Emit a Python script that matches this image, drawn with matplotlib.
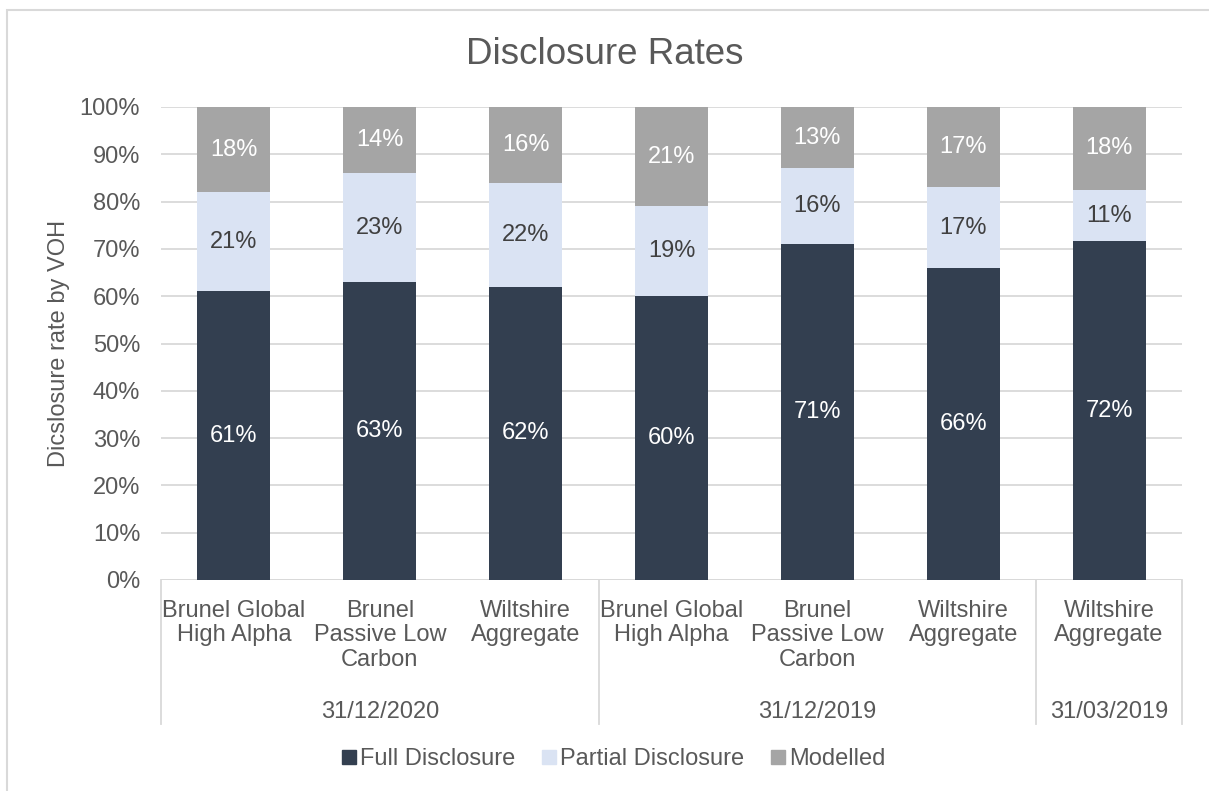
import numpy as np
import matplotlib
matplotlib.use('Agg')
import matplotlib.pyplot as plt
from matplotlib.lines import Line2D
from matplotlib.patches import Rectangle

plt.rcParams['font.family'] = ['Liberation Sans', 'DejaVu Sans']

# data
categories = ['Brunel Global\nHigh Alpha', 'Brunel\nPassive Low\nCarbon', 'Wiltshire\nAggregate',
              'Brunel Global\nHigh Alpha', 'Brunel\nPassive Low\nCarbon', 'Wiltshire\nAggregate',
              'Wiltshire\nAggregate']
groups = ['31/12/2020', '31/12/2019', '31/03/2019']
group_sizes = [3, 3, 1]
full = [61, 63, 62, 60, 71, 66, 71.6]
partial = [21, 23, 22, 19, 16, 17, 10.9]
modelled = [18, 14, 16, 21, 13, 17, 17.5]
series_names = ['Full Disclosure', 'Partial Disclosure', 'Modelled']

colors = ['#333F50', '#DAE3F3', '#A5A5A5']
label_colors = ['white', '#404040', 'white']
txt = '#595959'
grid = '#D9D9D9'
fs = 17

W, H = 1209, 791
fig = plt.figure(figsize=(W / 100, H / 100), dpi=100)
ax = fig.add_axes([161 / W, (H - 580) / H, (1182 - 161) / W, (580 - 107) / H])

x = np.arange(len(categories))
bottom = np.zeros(len(categories))
for vals, c, lc in zip([full, partial, modelled], colors, label_colors):
    vals = np.array(vals)
    ax.bar(x, vals, 0.5, bottom=bottom, color=c, zorder=3)
    for xi, b, v in zip(x, bottom, vals):
        ax.text(xi, b + v / 2, '%d%%' % round(v), ha='center', va='center',
                color=lc, fontsize=fs, zorder=4)
    bottom = bottom + vals

ax.set_xlim(-0.5, len(categories) - 0.5)
ax.set_ylim(0, 100)
ax.set_yticks(np.arange(0, 101, 10))
ax.set_yticklabels(['%d%%' % t for t in range(0, 101, 10)])
ax.tick_params(axis='y', length=0, labelsize=fs, labelcolor=txt, pad=15)
ax.set_xticks([])
ax.yaxis.grid(True, color=grid, linewidth=1.3, zorder=0)
for s in ax.spines.values():
    s.set_visible(False)
ax.axhline(0, color=grid, linewidth=1.3, zorder=2)

ax.set_ylabel('Dicslosure rate by VOH', fontsize=fs, color=txt, labelpad=7)

# multi level x labels
tr = ax.get_xaxis_transform()
for xi, lab in zip(x, categories):
    ax.text(xi, -0.042, lab, transform=tr, ha='center', va='top', fontsize=fs,
            color=txt, linespacing=1.14)
edges = np.concatenate([[0], np.cumsum(group_sizes)]) - 0.5
for e in edges:
    ax.add_line(Line2D([e, e], [0, -0.305], transform=tr, color=grid,
                       linewidth=1.3, clip_on=False))
for g, lo, hi in zip(groups, edges[:-1], edges[1:]):
    ax.text((lo + hi) / 2, -0.279, g, transform=tr, ha='center', va='center',
            fontsize=fs, color=txt)

fig.text(0.5, (H - 55) / H, 'Disclosure Rates', ha='center', va='center',
         fontsize=26.5, color=txt)

handles = [Line2D([], [], marker='s', linestyle='', markersize=10, color=c) for c in colors]
fig.legend(handles, series_names, loc='center', bbox_to_anchor=(613 / W, (H - 759) / H),
           ncol=3, frameon=False, fontsize=fs, labelcolor=txt, handletextpad=0.1,
           columnspacing=1.05, handlelength=0.75)

fig.patches.append(Rectangle((7 / W, -0.05), 1.1, (H - 10) / H + 0.05,
                             transform=fig.transFigure, fill=False,
                             edgecolor=grid, linewidth=1.5))

fig.savefig('out.png', dpi=100)
